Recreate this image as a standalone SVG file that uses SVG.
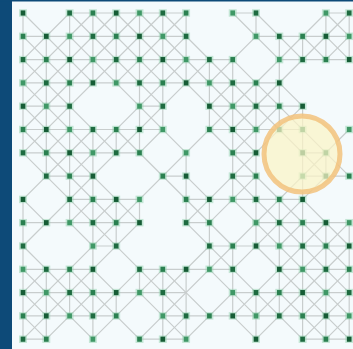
<svg xmlns="http://www.w3.org/2000/svg" width="353" height="349" viewBox="0 0 353 349">
<style>
.e{fill:none;stroke:#c8cdcd;stroke-width:1.2;vector-effect:non-scaling-stroke}
.a{fill:#155c35}.b{fill:#2a8050}.c{fill:#1d6b40}.d{fill:#3f9866}
</style>
<defs>
<g id="nd"><rect x="-0.17" y="-0.16" width="0.34" height="0.32" fill="#92d2ae" opacity="0.5"/><rect x="-0.1" y="-0.11" width="0.2" height="0.22"/></g>
</defs>
<rect width="353" height="349" fill="#f4fafc"/>
<rect width="12" height="349" fill="#0d4a78"/>
<rect width="353" height="1.5" fill="#0d4a78"/>
<g id="connectors" transform="translate(23 13) scale(23.3)">
<path class="e" d="M2 0H7M9 0H10M13 0H14M0 1H7M10 1H14M0 2H9M11 2H14M0 3H11M0 4H2M5 4H6M8 4H12M0 5H6M8 5H12M0 6H5M9 6H10M12 6H13M1 7H3M6 7H7M9 7H10M12 7H14M2 8H5M7 8H12M0 9H5M7 9H8M10 9H14M3 10H4M8 10H14M0 11H3M5 11H9M11 11H14M0 12H7M9 12H14M0 13H4M6 13H14M0 14H1M5 14H7M12 14H14"/>
<path class="e" d="M0 0V6M0 8V14M1 1V7M1 11V14M2 0V9M2 11V13M3 0V3M3 5V14M4 0V3M4 5V6M4 8V10M4 12V13M5 0V6M5 8V9M5 11V12M6 0V5M6 11V14M7 0V3M7 6V9M7 11V14M8 2V5M8 8V11M9 2V8M9 10V13M10 0V1M10 3V10M10 12V14M11 1V5M11 8V13M12 1V2M12 4V14M13 0V2M13 6V7M13 9V14M14 0V2M14 9V14"/>
<path class="e" d="M0 0L3 3M7 7L8 8M10 10L14 14M2 1L7 6M9 8L14 13M2 0L6 4M9 7L14 12M3 0L6 3M8 5L14 11M4 0L10 6M12 8L14 10M5 0L10 5M6 0L13 7M9 2L14 7M11 3L12 4M9 0L11 2M10 0L12 2M12 1L13 2M13 1L14 2M13 0L14 1M0 1L2 3M4 5L9 10M11 12L13 14M0 2L4 6M7 9L12 14M0 3L3 6M8 11L10 13M0 4L5 9M9 13L10 14M0 5L4 9M6 11L8 13M0 6L7 13M2 9L3 10M5 12L7 14M0 8L1 9M3 11L4 12M2 11L5 14M0 10L3 13M0 11L3 14M0 12L1 13M0 13L1 14"/>
<path class="e" d="M2 0L0 2M3 0L0 3M4 0L0 4M5 0L0 5M6 0L0 6M7 0L4 3M2 5L1 6M7 1L5 3M3 5L0 8M7 2L2 7M8 2L0 10M10 1L8 3M6 5L5 6M3 8L2 9M9 3L8 4M4 8L3 9M1 11L0 12M13 0L0 13M14 0L9 5M5 9L0 14M14 1L13 2M11 4L9 6M3 12L1 14M12 4L7 9M5 11L3 13M10 7L8 9M6 11L3 14M8 10L6 12M14 5L5 14M13 7L9 11M7 13L6 14M12 9L11 10M9 12L7 14M13 9L9 13M14 9L10 13M14 10L10 14M14 11L12 13M14 12L12 14M14 13L13 14"/>
</g>
<g id="nodes" transform="translate(23 13) scale(23.3)">
<g id="n-r0-c0" class="a"><use href="#nd" x="0" y="0"/></g>
<g id="n-r0-c2" class="c"><use href="#nd" x="2" y="0"/></g>
<g id="n-r0-c3" class="b"><use href="#nd" x="3" y="0"/></g>
<g id="n-r0-c4" class="a"><use href="#nd" x="4" y="0"/></g>
<g id="n-r0-c5" class="d"><use href="#nd" x="5" y="0"/></g>
<g id="n-r0-c6" class="c"><use href="#nd" x="6" y="0"/></g>
<g id="n-r0-c7" class="b"><use href="#nd" x="7" y="0"/></g>
<g id="n-r0-c9" class="d"><use href="#nd" x="9" y="0"/></g>
<g id="n-r0-c10" class="c"><use href="#nd" x="10" y="0"/></g>
<g id="n-r0-c13" class="d"><use href="#nd" x="13" y="0"/></g>
<g id="n-r0-c14" class="c"><use href="#nd" x="14" y="0"/></g>
<g id="n-r1-c0" class="b"><use href="#nd" x="0" y="1"/></g>
<g id="n-r1-c1" class="a"><use href="#nd" x="1" y="1"/></g>
<g id="n-r1-c2" class="d"><use href="#nd" x="2" y="1"/></g>
<g id="n-r1-c3" class="c"><use href="#nd" x="3" y="1"/></g>
<g id="n-r1-c4" class="b"><use href="#nd" x="4" y="1"/></g>
<g id="n-r1-c5" class="a"><use href="#nd" x="5" y="1"/></g>
<g id="n-r1-c6" class="d"><use href="#nd" x="6" y="1"/></g>
<g id="n-r1-c7" class="c"><use href="#nd" x="7" y="1"/></g>
<g id="n-r1-c10" class="d"><use href="#nd" x="10" y="1"/></g>
<g id="n-r1-c11" class="c"><use href="#nd" x="11" y="1"/></g>
<g id="n-r1-c12" class="b"><use href="#nd" x="12" y="1"/></g>
<g id="n-r1-c13" class="a"><use href="#nd" x="13" y="1"/></g>
<g id="n-r1-c14" class="d"><use href="#nd" x="14" y="1"/></g>
<g id="n-r2-c0" class="c"><use href="#nd" x="0" y="2"/></g>
<g id="n-r2-c1" class="b"><use href="#nd" x="1" y="2"/></g>
<g id="n-r2-c2" class="a"><use href="#nd" x="2" y="2"/></g>
<g id="n-r2-c3" class="d"><use href="#nd" x="3" y="2"/></g>
<g id="n-r2-c4" class="c"><use href="#nd" x="4" y="2"/></g>
<g id="n-r2-c5" class="b"><use href="#nd" x="5" y="2"/></g>
<g id="n-r2-c6" class="a"><use href="#nd" x="6" y="2"/></g>
<g id="n-r2-c7" class="d"><use href="#nd" x="7" y="2"/></g>
<g id="n-r2-c8" class="c"><use href="#nd" x="8" y="2"/></g>
<g id="n-r2-c9" class="b"><use href="#nd" x="9" y="2"/></g>
<g id="n-r2-c11" class="d"><use href="#nd" x="11" y="2"/></g>
<g id="n-r2-c12" class="c"><use href="#nd" x="12" y="2"/></g>
<g id="n-r2-c13" class="b"><use href="#nd" x="13" y="2"/></g>
<g id="n-r2-c14" class="a"><use href="#nd" x="14" y="2"/></g>
<g id="n-r3-c0" class="d"><use href="#nd" x="0" y="3"/></g>
<g id="n-r3-c1" class="c"><use href="#nd" x="1" y="3"/></g>
<g id="n-r3-c2" class="b"><use href="#nd" x="2" y="3"/></g>
<g id="n-r3-c3" class="a"><use href="#nd" x="3" y="3"/></g>
<g id="n-r3-c4" class="d"><use href="#nd" x="4" y="3"/></g>
<g id="n-r3-c5" class="c"><use href="#nd" x="5" y="3"/></g>
<g id="n-r3-c6" class="b"><use href="#nd" x="6" y="3"/></g>
<g id="n-r3-c7" class="a"><use href="#nd" x="7" y="3"/></g>
<g id="n-r3-c8" class="d"><use href="#nd" x="8" y="3"/></g>
<g id="n-r3-c9" class="c"><use href="#nd" x="9" y="3"/></g>
<g id="n-r3-c10" class="b"><use href="#nd" x="10" y="3"/></g>
<g id="n-r3-c11" class="a"><use href="#nd" x="11" y="3"/></g>
<g id="n-r4-c0" class="a"><use href="#nd" x="0" y="4"/></g>
<g id="n-r4-c1" class="d"><use href="#nd" x="1" y="4"/></g>
<g id="n-r4-c2" class="c"><use href="#nd" x="2" y="4"/></g>
<g id="n-r4-c5" class="d"><use href="#nd" x="5" y="4"/></g>
<g id="n-r4-c6" class="c"><use href="#nd" x="6" y="4"/></g>
<g id="n-r4-c8" class="a"><use href="#nd" x="8" y="4"/></g>
<g id="n-r4-c9" class="d"><use href="#nd" x="9" y="4"/></g>
<g id="n-r4-c10" class="c"><use href="#nd" x="10" y="4"/></g>
<g id="n-r4-c11" class="b"><use href="#nd" x="11" y="4"/></g>
<g id="n-r4-c12" class="a"><use href="#nd" x="12" y="4"/></g>
<g id="n-r5-c0" class="b"><use href="#nd" x="0" y="5"/></g>
<g id="n-r5-c1" class="a"><use href="#nd" x="1" y="5"/></g>
<g id="n-r5-c2" class="d"><use href="#nd" x="2" y="5"/></g>
<g id="n-r5-c3" class="c"><use href="#nd" x="3" y="5"/></g>
<g id="n-r5-c4" class="b"><use href="#nd" x="4" y="5"/></g>
<g id="n-r5-c5" class="a"><use href="#nd" x="5" y="5"/></g>
<g id="n-r5-c6" class="d"><use href="#nd" x="6" y="5"/></g>
<g id="n-r5-c8" class="b"><use href="#nd" x="8" y="5"/></g>
<g id="n-r5-c9" class="a"><use href="#nd" x="9" y="5"/></g>
<g id="n-r5-c10" class="d"><use href="#nd" x="10" y="5"/></g>
<g id="n-r5-c11" class="c"><use href="#nd" x="11" y="5"/></g>
<g id="n-r5-c12" class="b"><use href="#nd" x="12" y="5"/></g>
<g id="n-r5-c14" class="d"><use href="#nd" x="14" y="5"/></g>
<g id="n-r6-c0" class="c"><use href="#nd" x="0" y="6"/></g>
<g id="n-r6-c1" class="b"><use href="#nd" x="1" y="6"/></g>
<g id="n-r6-c2" class="a"><use href="#nd" x="2" y="6"/></g>
<g id="n-r6-c3" class="d"><use href="#nd" x="3" y="6"/></g>
<g id="n-r6-c4" class="c"><use href="#nd" x="4" y="6"/></g>
<g id="n-r6-c5" class="b"><use href="#nd" x="5" y="6"/></g>
<g id="n-r6-c7" class="d"><use href="#nd" x="7" y="6"/></g>
<g id="n-r6-c9" class="b"><use href="#nd" x="9" y="6"/></g>
<g id="n-r6-c10" class="a"><use href="#nd" x="10" y="6"/></g>
<g id="n-r6-c12" class="c"><use href="#nd" x="12" y="6"/></g>
<g id="n-r6-c13" class="b"><use href="#nd" x="13" y="6"/></g>
<g id="n-r7-c1" class="c"><use href="#nd" x="1" y="7"/></g>
<g id="n-r7-c2" class="b"><use href="#nd" x="2" y="7"/></g>
<g id="n-r7-c3" class="a"><use href="#nd" x="3" y="7"/></g>
<g id="n-r7-c6" class="b"><use href="#nd" x="6" y="7"/></g>
<g id="n-r7-c7" class="a"><use href="#nd" x="7" y="7"/></g>
<g id="n-r7-c9" class="c"><use href="#nd" x="9" y="7"/></g>
<g id="n-r7-c10" class="b"><use href="#nd" x="10" y="7"/></g>
<g id="n-r7-c12" class="d"><use href="#nd" x="12" y="7"/></g>
<g id="n-r7-c13" class="c"><use href="#nd" x="13" y="7"/></g>
<g id="n-r7-c14" class="b"><use href="#nd" x="14" y="7"/></g>
<g id="n-r8-c0" class="a"><use href="#nd" x="0" y="8"/></g>
<g id="n-r8-c2" class="c"><use href="#nd" x="2" y="8"/></g>
<g id="n-r8-c3" class="b"><use href="#nd" x="3" y="8"/></g>
<g id="n-r8-c4" class="a"><use href="#nd" x="4" y="8"/></g>
<g id="n-r8-c5" class="d"><use href="#nd" x="5" y="8"/></g>
<g id="n-r8-c7" class="b"><use href="#nd" x="7" y="8"/></g>
<g id="n-r8-c8" class="a"><use href="#nd" x="8" y="8"/></g>
<g id="n-r8-c9" class="d"><use href="#nd" x="9" y="8"/></g>
<g id="n-r8-c10" class="c"><use href="#nd" x="10" y="8"/></g>
<g id="n-r8-c11" class="b"><use href="#nd" x="11" y="8"/></g>
<g id="n-r8-c12" class="a"><use href="#nd" x="12" y="8"/></g>
<g id="n-r9-c0" class="b"><use href="#nd" x="0" y="9"/></g>
<g id="n-r9-c1" class="a"><use href="#nd" x="1" y="9"/></g>
<g id="n-r9-c2" class="d"><use href="#nd" x="2" y="9"/></g>
<g id="n-r9-c3" class="c"><use href="#nd" x="3" y="9"/></g>
<g id="n-r9-c4" class="b"><use href="#nd" x="4" y="9"/></g>
<g id="n-r9-c5" class="a"><use href="#nd" x="5" y="9"/></g>
<g id="n-r9-c7" class="c"><use href="#nd" x="7" y="9"/></g>
<g id="n-r9-c8" class="b"><use href="#nd" x="8" y="9"/></g>
<g id="n-r9-c10" class="d"><use href="#nd" x="10" y="9"/></g>
<g id="n-r9-c11" class="c"><use href="#nd" x="11" y="9"/></g>
<g id="n-r9-c12" class="b"><use href="#nd" x="12" y="9"/></g>
<g id="n-r9-c13" class="a"><use href="#nd" x="13" y="9"/></g>
<g id="n-r9-c14" class="d"><use href="#nd" x="14" y="9"/></g>
<g id="n-r10-c0" class="c"><use href="#nd" x="0" y="10"/></g>
<g id="n-r10-c3" class="d"><use href="#nd" x="3" y="10"/></g>
<g id="n-r10-c4" class="c"><use href="#nd" x="4" y="10"/></g>
<g id="n-r10-c8" class="c"><use href="#nd" x="8" y="10"/></g>
<g id="n-r10-c9" class="b"><use href="#nd" x="9" y="10"/></g>
<g id="n-r10-c10" class="a"><use href="#nd" x="10" y="10"/></g>
<g id="n-r10-c11" class="d"><use href="#nd" x="11" y="10"/></g>
<g id="n-r10-c12" class="c"><use href="#nd" x="12" y="10"/></g>
<g id="n-r10-c13" class="b"><use href="#nd" x="13" y="10"/></g>
<g id="n-r10-c14" class="a"><use href="#nd" x="14" y="10"/></g>
<g id="n-r11-c0" class="d"><use href="#nd" x="0" y="11"/></g>
<g id="n-r11-c1" class="c"><use href="#nd" x="1" y="11"/></g>
<g id="n-r11-c2" class="b"><use href="#nd" x="2" y="11"/></g>
<g id="n-r11-c3" class="a"><use href="#nd" x="3" y="11"/></g>
<g id="n-r11-c5" class="c"><use href="#nd" x="5" y="11"/></g>
<g id="n-r11-c6" class="b"><use href="#nd" x="6" y="11"/></g>
<g id="n-r11-c7" class="a"><use href="#nd" x="7" y="11"/></g>
<g id="n-r11-c8" class="d"><use href="#nd" x="8" y="11"/></g>
<g id="n-r11-c9" class="c"><use href="#nd" x="9" y="11"/></g>
<g id="n-r11-c11" class="a"><use href="#nd" x="11" y="11"/></g>
<g id="n-r11-c12" class="d"><use href="#nd" x="12" y="11"/></g>
<g id="n-r11-c13" class="c"><use href="#nd" x="13" y="11"/></g>
<g id="n-r11-c14" class="b"><use href="#nd" x="14" y="11"/></g>
<g id="n-r12-c0" class="a"><use href="#nd" x="0" y="12"/></g>
<g id="n-r12-c1" class="d"><use href="#nd" x="1" y="12"/></g>
<g id="n-r12-c2" class="c"><use href="#nd" x="2" y="12"/></g>
<g id="n-r12-c3" class="b"><use href="#nd" x="3" y="12"/></g>
<g id="n-r12-c4" class="a"><use href="#nd" x="4" y="12"/></g>
<g id="n-r12-c5" class="d"><use href="#nd" x="5" y="12"/></g>
<g id="n-r12-c6" class="c"><use href="#nd" x="6" y="12"/></g>
<g id="n-r12-c9" class="d"><use href="#nd" x="9" y="12"/></g>
<g id="n-r12-c10" class="c"><use href="#nd" x="10" y="12"/></g>
<g id="n-r12-c11" class="b"><use href="#nd" x="11" y="12"/></g>
<g id="n-r12-c12" class="a"><use href="#nd" x="12" y="12"/></g>
<g id="n-r12-c13" class="d"><use href="#nd" x="13" y="12"/></g>
<g id="n-r12-c14" class="c"><use href="#nd" x="14" y="12"/></g>
<g id="n-r13-c0" class="b"><use href="#nd" x="0" y="13"/></g>
<g id="n-r13-c1" class="a"><use href="#nd" x="1" y="13"/></g>
<g id="n-r13-c2" class="d"><use href="#nd" x="2" y="13"/></g>
<g id="n-r13-c3" class="c"><use href="#nd" x="3" y="13"/></g>
<g id="n-r13-c4" class="b"><use href="#nd" x="4" y="13"/></g>
<g id="n-r13-c6" class="d"><use href="#nd" x="6" y="13"/></g>
<g id="n-r13-c7" class="c"><use href="#nd" x="7" y="13"/></g>
<g id="n-r13-c8" class="b"><use href="#nd" x="8" y="13"/></g>
<g id="n-r13-c9" class="a"><use href="#nd" x="9" y="13"/></g>
<g id="n-r13-c10" class="d"><use href="#nd" x="10" y="13"/></g>
<g id="n-r13-c11" class="c"><use href="#nd" x="11" y="13"/></g>
<g id="n-r13-c12" class="b"><use href="#nd" x="12" y="13"/></g>
<g id="n-r13-c13" class="a"><use href="#nd" x="13" y="13"/></g>
<g id="n-r13-c14" class="d"><use href="#nd" x="14" y="13"/></g>
<g id="n-r14-c0" class="c"><use href="#nd" x="0" y="14"/></g>
<g id="n-r14-c1" class="b"><use href="#nd" x="1" y="14"/></g>
<g id="n-r14-c3" class="d"><use href="#nd" x="3" y="14"/></g>
<g id="n-r14-c5" class="b"><use href="#nd" x="5" y="14"/></g>
<g id="n-r14-c6" class="a"><use href="#nd" x="6" y="14"/></g>
<g id="n-r14-c7" class="d"><use href="#nd" x="7" y="14"/></g>
<g id="n-r14-c10" class="a"><use href="#nd" x="10" y="14"/></g>
<g id="n-r14-c12" class="c"><use href="#nd" x="12" y="14"/></g>
<g id="n-r14-c13" class="b"><use href="#nd" x="13" y="14"/></g>
<g id="n-r14-c14" class="a"><use href="#nd" x="14" y="14"/></g>
</g>
<g id="highlight">
<circle cx="302" cy="154" r="38" fill="#fbf4c6" fill-opacity="0.72" stroke="#f2c27c" stroke-opacity="0.85" stroke-width="5"/>
</g>
</svg>
